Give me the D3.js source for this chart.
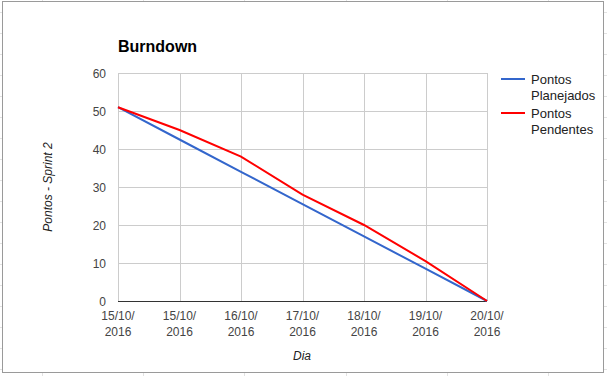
<!DOCTYPE html>
<html>
<head>
<meta charset="utf-8">
<script src="https://cdn.jsdelivr.net/npm/d3@7"></script>
<style>
  body { margin: 0; background: #fff; }
  svg { display: block; font-family: "Liberation Sans", Arial, sans-serif; }
</style>
</head>
<body>
<script>
const days = ['15/10/2016', '15/10/2016 ', '16/10/2016', '17/10/2016', '18/10/2016', '19/10/2016', '20/10/2016'];
const planejados = [51, 42.5, 34, 25.5, 17, 8.5, 0];
const pendentes = [51, 45, 38, 28, 20, 10.5, 0];
const yTicks = [0, 10, 20, 30, 40, 50, 60];

const width = 607, height = 376;
const svg = d3.select('body').append('svg').attr('width', width).attr('height', height);

// spreadsheet cells behind the chart
const bg = svg.append('g').attr('stroke', '#e2e2e2').attr('stroke-width', 1);
d3.range(42, width, 101.2).forEach(x => {
  bg.append('line').attr('x1', Math.round(x) + 0.5).attr('x2', Math.round(x) + 0.5).attr('y1', 0).attr('y2', height);
});
d3.range(12, height, 21).forEach(y => {
  bg.append('line').attr('x1', 0).attr('x2', width).attr('y1', y + 0.5).attr('y2', y + 0.5);
});

// chart box
svg.append('rect')
  .attr('x', 2.5).attr('y', 1.5).attr('width', 601).attr('height', 371)
  .attr('fill', '#fff').attr('stroke', '#9a9a9a').attr('stroke-width', 1);

const x = d3.scalePoint().domain(days).range([118, 487]);
const y = d3.scaleLinear().domain([0, 60]).range([301, 73]);

const g = svg.append('g');

// grid
g.selectAll('.hgrid').data(yTicks.filter(d => d > 0)).enter()
  .append('line')
  .attr('x1', 118).attr('x2', 487)
  .attr('y1', d => Math.round(y(d)) + 0.5).attr('y2', d => Math.round(y(d)) + 0.5)
  .attr('stroke', '#cccccc');
g.selectAll('.vgrid').data(days).enter()
  .append('line')
  .attr('x1', d => Math.round(x(d)) + 0.5).attr('x2', d => Math.round(x(d)) + 0.5)
  .attr('y1', 73).attr('y2', 301)
  .attr('stroke', '#cccccc');

// baseline
g.append('line')
  .attr('x1', 118).attr('x2', 487).attr('y1', 301.5).attr('y2', 301.5)
  .attr('stroke', '#333').attr('stroke-width', 1);

// y labels
g.selectAll('.ylab').data(yTicks).enter()
  .append('text')
  .attr('x', 106).attr('y', d => y(d) + 4.5)
  .attr('text-anchor', 'end')
  .attr('font-size', 12).attr('fill', '#444')
  .text(d => d);

// x labels (two lines)
const xl = g.selectAll('.xlab').data(days).enter()
  .append('text')
  .attr('text-anchor', 'middle')
  .attr('font-size', 12).attr('fill', '#444');
xl.append('tspan').attr('x', d => x(d)).attr('y', 320).text(d => d.trim().slice(0, 6));
xl.append('tspan').attr('x', d => x(d)).attr('y', 336).text(d => d.trim().slice(6));

// lines
const line = d3.line().x((d, i) => x(days[i])).y(d => y(d));
g.append('path').datum(planejados)
  .attr('d', line).attr('fill', 'none')
  .attr('stroke', '#3366cc').attr('stroke-width', 2);
g.append('path').datum(pendentes)
  .attr('d', line).attr('fill', 'none')
  .attr('stroke', '#ff0000').attr('stroke-width', 2);

// title
svg.append('text')
  .attr('x', 118).attr('y', 52)
  .attr('font-size', 16).attr('font-weight', 'bold').attr('fill', '#000')
  .text('Burndown');

// axis titles
svg.append('text')
  .attr('x', 302).attr('y', 360)
  .attr('text-anchor', 'middle').attr('font-size', 12)
  .attr('font-style', 'italic').attr('fill', '#222')
  .text('Dia');
svg.append('text')
  .attr('transform', 'translate(52,187) rotate(-90)')
  .attr('text-anchor', 'middle').attr('font-size', 12)
  .attr('font-style', 'italic').attr('fill', '#222')
  .text('Pontos - Sprint 2');

// legend
const legend = [
  { lines: ['Pontos', 'Planejados'], color: '#3366cc' },
  { lines: ['Pontos', 'Pendentes'], color: '#ff0000' }
];
const lg = svg.append('g');
legend.forEach((item, i) => {
  const cy = 79 + i * 34;
  lg.append('line')
    .attr('x1', 501).attr('x2', 525).attr('y1', cy).attr('y2', cy)
    .attr('stroke', item.color).attr('stroke-width', 2);
  const t = lg.append('text').attr('font-size', 13).attr('fill', '#222');
  item.lines.forEach((s, j) => {
    t.append('tspan').attr('x', 531).attr('y', cy + 5 + j * 16).text(s);
  });
});
</script>
</body>
</html>
